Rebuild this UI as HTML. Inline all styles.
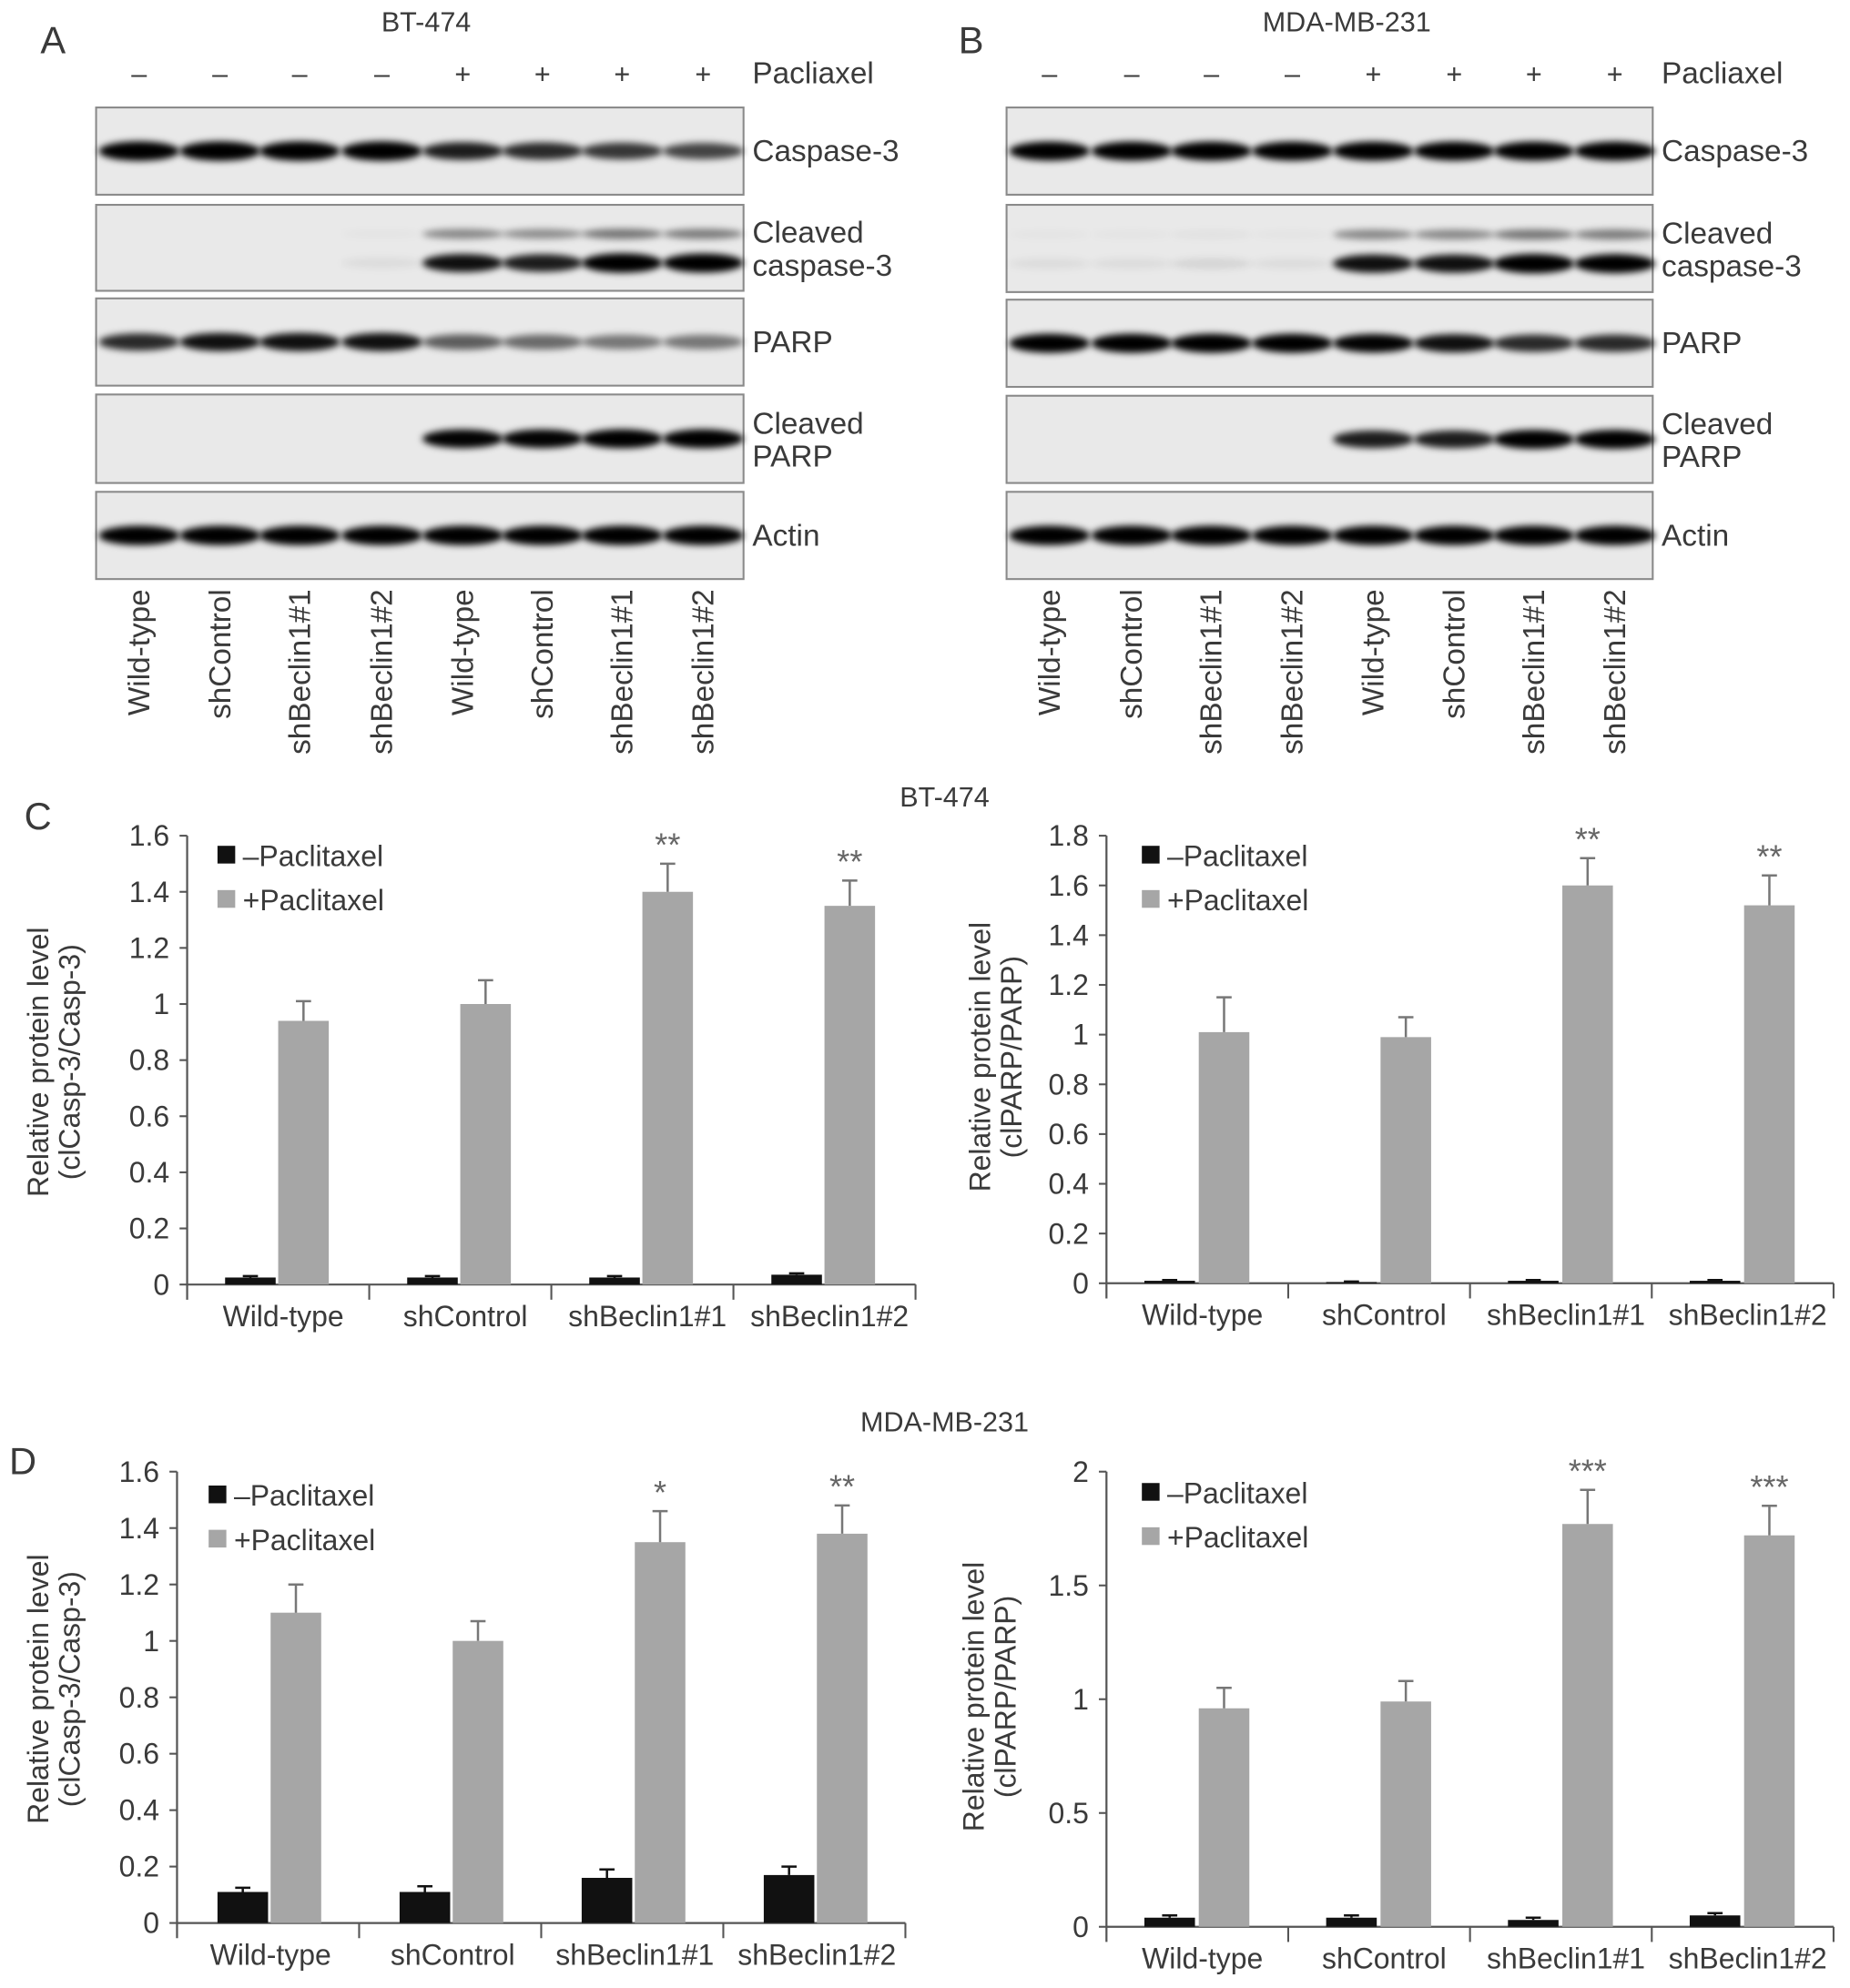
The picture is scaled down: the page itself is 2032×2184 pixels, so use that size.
<!DOCTYPE html>
<html><head><meta charset="utf-8"><style>
html,body{margin:0;padding:0;background:#fff}
svg{display:block}
text{font-family:"Liberation Sans",sans-serif;fill:#3a3a3a}
</style></head><body>
<svg id="fig" width="2032" height="2184" viewBox="0 0 1463 1572.4" xmlns="http://www.w3.org/2000/svg">
<defs>
<filter id="blur" x="-20%" y="-100%" width="140%" height="300%"><feGaussianBlur stdDeviation="2.6"/></filter>
</defs>
<g id="root"></g>
</svg>
<script>
// ---------- Data ----------
const groups = ["Wild-type","shControl","shBeclin1#1","shBeclin1#2"];
const laneSigns = ["–","–","–","–","+","+","+","+"];
const blotLabels = [["Caspase-3"],["Cleaved","caspase-3"],["PARP"],["Cleaved","PARP"],["Actin"]];
const bt474Casp3 = [1,1,1,1,0.8,0.75,0.7,0.65];
const bt474ClCasp3 = [0,0,0,0.05,0.85,0.8,1,0.95];
const bt474Parp = [0.75,0.85,0.85,0.85,0.55,0.5,0.45,0.45];
const bt474ClParp = [0,0,0,0,0.9,0.9,0.95,0.95];
const bt474Actin = [1,1,1,1,1,1,1,1];
const mdaCasp3 = [0.95,0.95,0.95,0.95,0.95,0.95,0.95,0.95];
const mdaClCasp3 = [0.05,0.05,0.08,0.05,0.85,0.85,1,0.95];
const mdaParp = [0.95,0.95,0.95,0.95,0.9,0.85,0.75,0.75];
const mdaClParp = [0,0,0,0,0.8,0.8,0.95,0.95];
const mdaActin = [1,1,1,1,1,1,1,1];

const cLeftMinus = [0.025,0.025,0.025,0.035];
const cLeftMinusErr = [0.005,0.005,0.005,0.005];
const cLeftPlus = [0.94,1.0,1.4,1.35];
const cLeftPlusErr = [0.07,0.085,0.1,0.09];
const cLeftStars = ["","","**","**"];
const cLeftTicks = ["0","0.2","0.4","0.6","0.8","1","1.2","1.4","1.6"];
const cRightMinus = [0.01,0.005,0.01,0.01];
const cRightMinusErr = [0.003,0.002,0.003,0.003];
const cRightPlus = [1.01,0.99,1.6,1.52];
const cRightPlusErr = [0.14,0.08,0.11,0.12];
const cRightStars = ["","","**","**"];
const cRightTicks = ["0","0.2","0.4","0.6","0.8","1","1.2","1.4","1.6","1.8"];
const dLeftMinus = [0.11,0.11,0.16,0.17];
const dLeftMinusErr = [0.015,0.02,0.03,0.03];
const dLeftPlus = [1.1,1.0,1.35,1.38];
const dLeftPlusErr = [0.1,0.07,0.11,0.1];
const dLeftStars = ["","","*","**"];
const dLeftTicks = ["0","0.2","0.4","0.6","0.8","1","1.2","1.4","1.6"];
const dRightMinus = [0.04,0.04,0.03,0.05];
const dRightMinusErr = [0.01,0.01,0.01,0.01];
const dRightPlus = [0.96,0.99,1.77,1.72];
const dRightPlusErr = [0.09,0.09,0.15,0.13];
const dRightStars = ["","","***","***"];
const dRightTicks = ["0","0.5","1","1.5","2"];

// ---------- Helpers ----------
const NS="http://www.w3.org/2000/svg";
const root=document.getElementById('root');
function mk(tag,attrs,parent,txt){const e=document.createElementNS(NS,tag);for(const k in attrs)e.setAttribute(k,attrs[k]);if(txt!==undefined)e.textContent=txt;(parent||root).appendChild(e);return e;}

function text(x,y,s,size,anchor,name,parent,extra){
  const t=mk('text',Object.assign({x:x,y:y,'font-size':size,'text-anchor':anchor||'start'},extra||{}),parent,s);
  
  
  return t;
}

// ---------- Blot panels ----------
function blotPanel(letter,lx,title,tx,lanes,boxX0,boxX1,boxes,data){
  const g=mk('g',{});
  
  
  text(lx,42,letter,30,'middle','panel-label-'+letter.toLowerCase(),g);
  text(tx,25,title,22,'middle','blot-title',g);
  laneSigns.forEach((s,i)=>{text(lanes[i],66,s,22,'middle','treatment-sign',g);});
  text(boxX1+7,66,'Pacliaxel',24,'start','treatment-label',g);
  boxes.forEach((b,bi)=>{
    const bg=mk('g',{},g);
    
    
    mk('rect',{x:boxX0,y:b[0],width:boxX1-boxX0,height:b[1]-b[0],fill:'#e9e9e9',stroke:'#8a8a8a','stroke-width':1.5},bg);
    const yc=(b[0]+b[1])/2;
    const bands=bi===1?[[yc-11,0.45,5],[yc+12,1,7]]:[[yc,1,7]];
    data[bi].forEach((v,i)=>{
      if(v<=0)return;
      bands.forEach(bd=>{
        const val=v*bd[1];
        const e=mk('ellipse',{cx:lanes[i],cy:bd[0],rx:32,ry:bd[2]*(0.6+0.5*val),fill:'#000','fill-opacity':Math.min(1,val*1.1),filter:'url(#blur)'},bg);
        
        
      });
    });
    const lab=blotLabels[bi];
    if(lab.length===1) text(boxX1+7,yc+8,lab[0],24,'start','blot-label',g);
    else {text(boxX1+7,yc-4,lab[0],24,'start','blot-label',g);text(boxX1+7,yc+22,lab[1],24,'start','blot-label',g);}
  });
  lanes.forEach((x,i)=>{
    text(0,0,groups[i%4],24,'end','lane-label',g,{transform:'translate('+(x+8)+',466) rotate(-90)'});
  });
}
blotPanel('A',42,'BT-474',337,[110,174,237,302,366,429,492,556],76,588,
  [[85,154],[162,230],[236,305],[312,382],[389,458]],
  [bt474Casp3,bt474ClCasp3,bt474Parp,bt474ClParp,bt474Actin]);
blotPanel('B',768,'MDA-MB-231',1065,[830,895,958,1022,1086,1150,1213,1277],796,1307,
  [[85,154],[162,231],[237,306],[313,382],[389,458]],
  [mdaCasp3,mdaClCasp3,mdaParp,mdaClParp,mdaActin]);

// ---------- Bar charts ----------
function barChart(o){
  const g=mk('g',{});
  
  
  const maxV=parseFloat(o.ticks[o.ticks.length-1]);
  const y=v=>o.y0-(v/maxV)*(o.y0-o.yTop);
  const gw=(o.xEnd-o.ax)/groups.length;
  const xg=i=>o.ax+i*gw;
  const ya=mk('line',{x1:o.ax,y1:o.yTop,x2:o.ax,y2:o.y0+12,stroke:'#555','stroke-width':1.6},g);
  
  const xa=mk('line',{x1:o.ax,y1:o.y0,x2:o.xEnd,y2:o.y0,stroke:'#555','stroke-width':1.6},g);
  
  o.ticks.forEach(t=>{
    const v=parseFloat(t),yy=y(v);
    const tk=mk('line',{x1:o.ax-6,y1:yy,x2:o.ax,y2:yy,stroke:'#555','stroke-width':1.5},g);
    
    text(o.ax-14,yy+8,t,23,'end','y-tick-label',g);
  });
  for(let i=1;i<=groups.length;i++){
    const tk=mk('line',{x1:xg(i),y1:o.y0,x2:xg(i),y2:o.y0+12,stroke:'#555','stroke-width':1.5},g);
    
  }
  groups.forEach((c,i)=>{
    text(xg(i)+gw/2+o.labShift,o.y0+33,c,23,'middle','x-tick-label',g);
    [[o.minus,o.minusErr,'#111',o.offM,'bar-minus-paclitaxel'],[o.plus,o.plusErr,'#a6a6a6',o.offP,'bar-plus-paclitaxel']].forEach(s=>{
      const v=s[0][i],e=s[1][i],cx=xg(i)+s[3];
      const r=mk('rect',{x:cx-20,y:y(v),width:40,height:o.y0-y(v),fill:s[2]},g);
      
      const el=mk('path',{d:'M'+cx+' '+y(v)+'V'+y(v+e)+'M'+(cx-6)+' '+y(v+e)+'H'+(cx+6),stroke:s[2]==='#111'?'#111':'#777','stroke-width':1.8,fill:'none'},g);
      
    });
    if(o.stars[i]) text(xg(i)+o.offP,y(o.plus[i]+o.plusErr[i])-6,o.stars[i],26,'middle','significance-marker',g,{style:'fill:#666'});
  });
  const lg=mk('g',{},g);
  mk('rect',{x:o.legX,y:o.legY-8,width:14,height:14,fill:'#111'},lg);
  text(o.legX+20,o.legY+8,'–Paclitaxel',23,'start','legend-entry-minus',lg);
  mk('rect',{x:o.legX,y:o.legY+27,width:14,height:14,fill:'#a6a6a6'},lg);
  text(o.legX+20,o.legY+43,'+Paclitaxel',23,'start','legend-entry-plus',lg);
  const tg=mk('g',{transform:'translate('+o.titleX+','+o.titleY+') rotate(-90)'},g);
  text(0,0,'Relative protein level',23,'middle','y-axis-title',tg);
  text(0,25,o.title2,23,'middle','y-axis-subtitle',tg);
}
text(30,656,'C',30,'middle','panel-label-c');
text(747,638,'BT-474',22,'middle','chart-row-title-bt474');
text(18,1166,'D',30,'middle','panel-label-d');
text(747,1132,'MDA-MB-231',22,'middle','chart-row-title-mda');

barChart({name:'chart-c-clcasp3',ax:148,y0:1016,yTop:661,xEnd:724,ticks:cLeftTicks,minus:cLeftMinus,minusErr:cLeftMinusErr,plus:cLeftPlus,plusErr:cLeftPlusErr,stars:cLeftStars,offM:50,offP:92,labShift:4,legX:172,legY:677,titleX:38,titleY:840,title2:'(clCasp-3/Casp-3)'});
barChart({name:'chart-c-clparp',ax:875,y0:1015,yTop:661,xEnd:1450,ticks:cRightTicks,minus:cRightMinus,minusErr:cRightMinusErr,plus:cRightPlus,plusErr:cRightPlusErr,stars:cRightStars,offM:50,offP:93,labShift:4,legX:903,legY:677,titleX:783,titleY:836,title2:'(clPARP/PARP)'});
barChart({name:'chart-d-clcasp3',ax:140,y0:1521,yTop:1164,xEnd:716,ticks:dLeftTicks,minus:dLeftMinus,minusErr:dLeftMinusErr,plus:dLeftPlus,plusErr:dLeftPlusErr,stars:dLeftStars,offM:52,offP:94,labShift:2,legX:165,legY:1183,titleX:38,titleY:1336,title2:'(clCasp-3/Casp-3)'});
barChart({name:'chart-d-clparp',ax:875,y0:1524,yTop:1164,xEnd:1450,ticks:dRightTicks,minus:dRightMinus,minusErr:dRightMinusErr,plus:dRightPlus,plusErr:dRightPlusErr,stars:dRightStars,offM:50,offP:93,labShift:4,legX:903,legY:1181,titleX:778,titleY:1342,title2:'(clPARP/PARP)'});
</script>
</body></html>
